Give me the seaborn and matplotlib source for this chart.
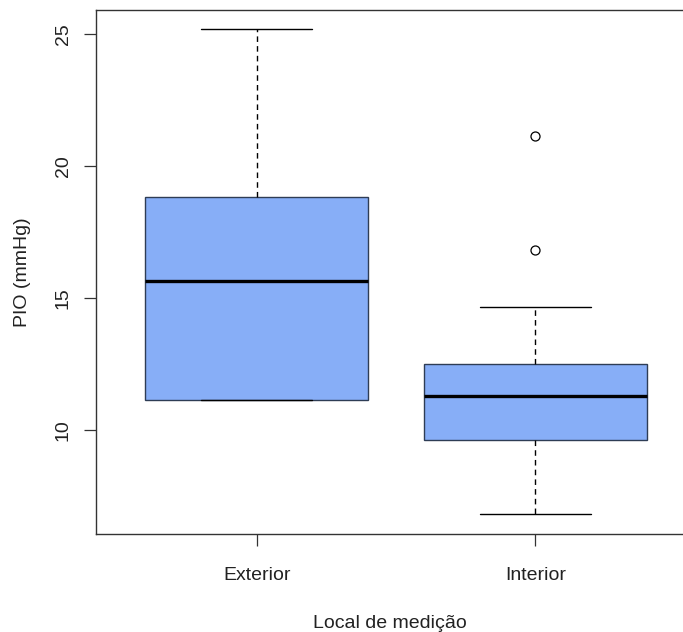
import matplotlib
matplotlib.use("Agg")
import matplotlib.pyplot as plt
import seaborn as sns
import pandas as pd

# Values (five-number summaries + outliers)
categories = ["Exterior", "Interior"]
exterior_values = [11.15, 11.15, 15.63, 18.83, 25.18]
interior_values = [6.80, 8.2, 9.0, 9.63, 10.2, 10.8, 11.30, 11.8, 12.2, 12.48, 14.65, 16.80, 21.13]
y_ticks = [10, 15, 20, 25]
x_label = "Local de medição"
y_label = "PIO (mmHg)"

df = pd.DataFrame({
    "local": ["Exterior"] * len(exterior_values) + ["Interior"] * len(interior_values),
    "pio": exterior_values + interior_values,
})

sns.set_style("white")
plt.rcParams["font.family"] = ["Liberation Sans", "DejaVu Sans"]

fig = plt.figure(figsize=(6.83, 6.32), dpi=100)
W, H = 683, 632
left_px, right_px, top_px, bottom_px = 96.3, 683, 10, 533.7
ax = fig.add_axes([left_px / W, 1 - bottom_px / H, (right_px - left_px) / W, (bottom_px - top_px) / H])

sns.boxplot(
    data=df, x="local", y="pio", order=categories, ax=ax,
    color="#87AEF7", width=0.8, whis=1.5, saturation=1,
    boxprops=dict(edgecolor="#2e3d55", linewidth=1.0),
    medianprops=dict(color="black", linewidth=2.4),
    whiskerprops=dict(color="black", linewidth=1.0, linestyle=(0, (4, 3))),
    capprops=dict(color="black", linewidth=1.0),
    flierprops=dict(marker="o", markersize=6.5, markerfacecolor="none",
                    markeredgecolor="black", markeredgewidth=0.9),
)

ax.set_xlim(-0.576, 1.530)
ax.set_ylim(6.065, 25.915)
ax.set_yticks(y_ticks)
ax.set_yticklabels([str(t) for t in y_ticks], rotation=90, va="center")

for s in ["left", "bottom", "top"]:
    ax.spines[s].set_visible(True)
    ax.spines[s].set_color("#333333")
    ax.spines[s].set_linewidth(1.0)
ax.spines["right"].set_visible(False)

ax.tick_params(axis="both", direction="out", length=8.6, width=0.9, color="#333333",
               labelsize=14, labelcolor="#222222", left=True, bottom=True)
ax.tick_params(axis="y", pad=9)
ax.tick_params(axis="x", pad=15.2)

ax.set_xlabel(x_label, fontsize=14, color="#222222", labelpad=22.5)
ax.set_ylabel(y_label, fontsize=14, color="#222222", labelpad=17.5)

fig.savefig("out.png", dpi=100)
